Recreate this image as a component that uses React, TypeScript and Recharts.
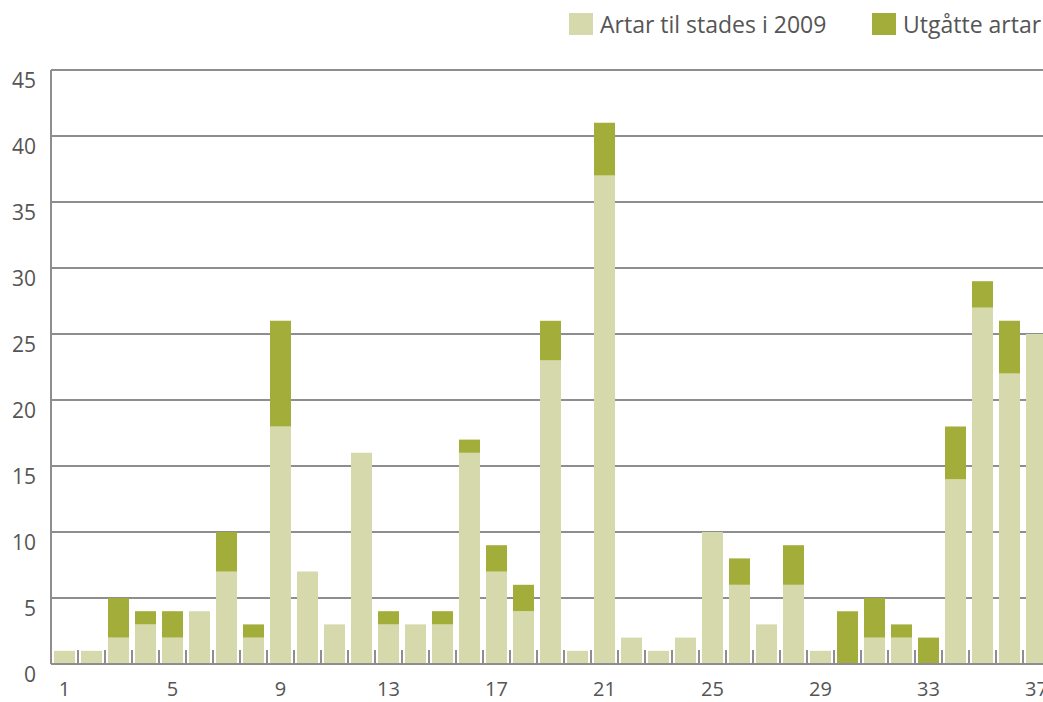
import { Bar, BarChart, CartesianGrid, Legend, XAxis, YAxis } from "recharts";

const CATEGORIES = Array.from({ length: 37 }, (_, i) => String(i + 1));
const PRESENT_2009 = [
  1, 1, 2, 3, 2, 4, 7, 2, 18, 7, 3, 16, 3, 3, 3, 16, 7, 4, 23, 1, 37, 2, 1, 2, 10,
  6, 3, 6, 1, 0, 2, 2, 0, 14, 27, 22, 25,
];
const LOST = [
  0, 0, 3, 1, 2, 0, 3, 1, 8, 0, 0, 0, 1, 0, 1, 1, 2, 2, 3, 0, 4, 0, 0, 0, 0,
  2, 0, 3, 0, 4, 3, 1, 2, 4, 2, 4, 0,
];
const Y_TICKS = [0, 5, 10, 15, 20, 25, 30, 35, 40, 45];
const LABELED = ["1", "5", "9", "13", "17", "21", "25", "29", "33", "37"];

const LIGHT = "#d5d9ac";
const DARK = "#a2ad3a";
const GRID = "#8e8e8e";
const TEXT = "#555555";
const FONT = "'Open Sans', sans-serif";

const data = CATEGORIES.map((c, i) => ({
  name: c,
  present: PRESENT_2009[i],
  lost: LOST[i],
}));

function XTick(props: any) {
  const { x, y, payload } = props;
  const half = payload.offset ?? 13.5;
  const left = x - half;
  return (
    <g>
      <line x1={left} x2={left} y1={y - 14} y2={y} stroke={GRID} strokeWidth={2} />
      {LABELED.includes(payload.value) && (
        <text
          x={x}
          y={y + 32}
          textAnchor="middle"
          fill={TEXT}
          fontSize={20}
          fontFamily={FONT}
        >
          {payload.value}
        </text>
      )}
    </g>
  );
}

function YTick(props: any) {
  const { x, y, payload } = props;
  return (
    <text
      x={x - 15}
      y={y + 18}
      textAnchor="end"
      fill={TEXT}
      fontSize={21}
      fontFamily={FONT}
    >
      {payload.value}
    </text>
  );
}

function LegendContent() {
  const items = [
    { label: "Artar til stades i 2009", color: LIGHT, left: 569 },
    { label: "Utgåtte artar", color: DARK, left: 872 },
  ];
  return (
    <div style={{ position: "relative", height: 40 }}>
      {items.map((it) => (
        <div
          key={it.label}
          style={{
            position: "absolute",
            left: it.left,
            top: 13,
            display: "flex",
            alignItems: "center",
            whiteSpace: "nowrap",
          }}
        >
          <span
            style={{
              display: "inline-block",
              width: 24,
              height: 22,
              background: it.color,
              marginRight: 7,
            }}
          />
          <span style={{ fontFamily: FONT, fontSize: 23, color: TEXT, lineHeight: "22px" }}>
            {it.label}
          </span>
        </div>
      ))}
    </div>
  );
}

export default function App() {
  return (
    <div
      style={{
        position: "fixed",
        left: 0,
        top: 0,
        width: 1043,
        height: 702,
        overflow: "hidden",
        background: "#fff",
      }}
    >
      <BarChart
        width={1060}
        height={702}
        data={data}
        margin={{ top: 30, right: 10, left: 0, bottom: 0 }}
        barSize={21}
      >
        <CartesianGrid vertical={false} stroke={GRID} strokeWidth={2} />
        <XAxis
          dataKey="name"
          interval={0}
          height={38}
          tickSize={0}
          tickMargin={0}
          axisLine={{ stroke: GRID, strokeWidth: 2 }}
          tickLine={false}
          tick={<XTick />}
        />
        <YAxis
          width={51}
          domain={[0, 45]}
          ticks={Y_TICKS}
          interval={0}
          tickSize={0}
          tickMargin={0}
          axisLine={{ stroke: GRID, strokeWidth: 2 }}
          tickLine={false}
          tick={<YTick />}
        />
        <Legend
          verticalAlign="top"
          wrapperStyle={{ top: 0, left: 0, width: 1043, height: 40 }}
          content={<LegendContent />}
        />
        <Bar dataKey="present" stackId="a" fill={LIGHT} isAnimationActive={false} />
        <Bar dataKey="lost" stackId="a" fill={DARK} isAnimationActive={false} />
      </BarChart>
    </div>
  );
}
